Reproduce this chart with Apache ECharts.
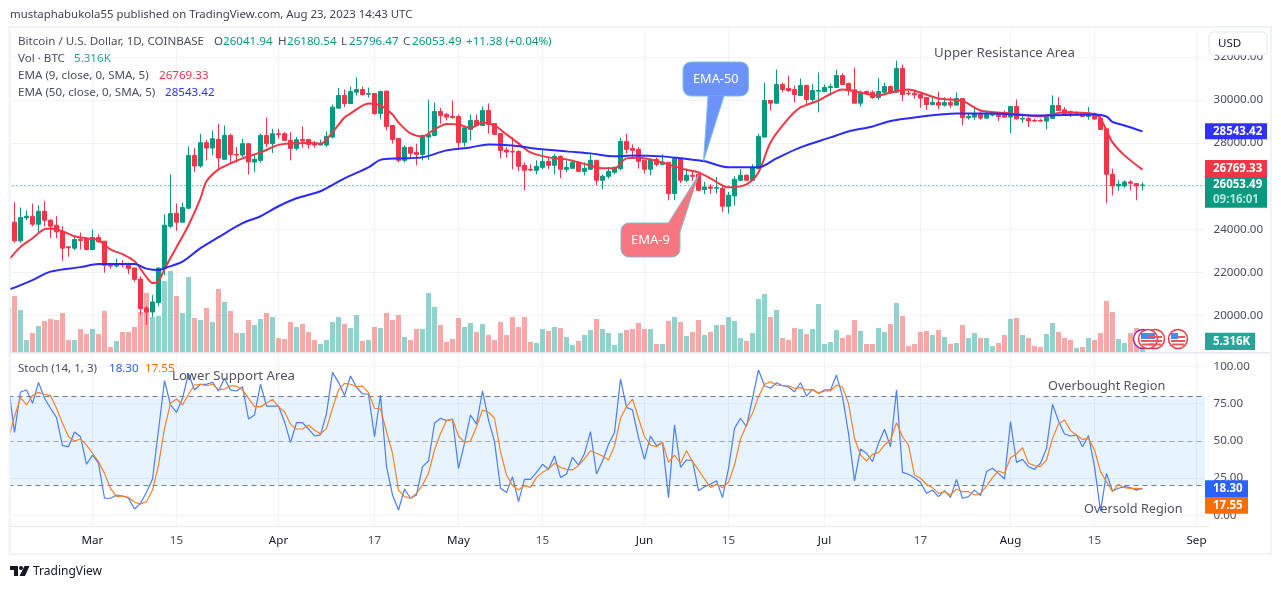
<!DOCTYPE html>
<html>
<head>
<meta charset="utf-8">
<title>BTCUSD</title>
<script src="https://cdn.jsdelivr.net/npm/echarts@6/dist/echarts.min.js"></script>
<style>
html, body { margin: 0; padding: 0; background: #fff; }
#chart { width: 1281px; height: 589px; }
</style>
</head>
<body>
<div id="chart"></div>
<script>
// first category is Feb 15, only its volume sliver and the indicator lines show
var opens = [null,
  24329,23465,24530,24606,24236,24838,24421,24190,23897,23187,
  23125,23542,23557,23063,23619,23449,22354,22292,22384,22354,
  22199,21690,20348,20163,20594,22168,24143,24745,24329,24977,
  27432,26938,28018,27771,28173,27247,28358,27478,27447,27972,
  27123,27200,28358,27972,28435,28435,28126,27756,28172,28172,
  28000,27910,27910,28280,29622,30209,29838,30363,30486,30270,
  30301,29375,30409,28820,28218,27200,27802,27570,27478,28280,
  28357,29468,29329,29237,29237,28033,28635,29052,28820,29514,
  28913,28450,27678,27616,27616,26968,26783,26737,26876,27153,
  26968,27385,26783,26830,27107,26690,26783,27200,26274,26459,
  26644,26814,28080,27755,27709,27200,26784,27246,27015,27108,
  25657,27277,26274,26506,26552,25842,25966,25904,25904,25071,
  25549,26274,26506,26274,26814,28280,29977,29854,30718,30533,
  30487,30209,30672,30024,30409,30394,30579,30579,31135,30764,
  30471,29854,30394,30363,30116,30363,30626,30363,31459,30317,
  30317,30255,30116,29792,29885,29762,29885,29762,30070,29175,
  29206,29360,29160,29300,29360,29360,29206,29700,29113,29144,
  29052,29052,29021,29144,29746,29546,29453,29360,29422,29237,
  29360,29144,28666,26552,26012,26012,26197,26120,26041.94];
var closes = [null,
  23465,24545,24606,24236,24838,24421,24143,23881,23125,23140,
  23526,23480,23063,23619,23418,22323,22292,22415,22354,22169,
  21675,20317,20163,20625,22199,24190,24730,24329,25008,27430,
  26938,28018,27771,28204,27309,28358,27463,27447,27972,27123,
  27247,28358,27972,28435,28404,28126,27756,28157,28095,27940,
  27910,27940,28311,29669,30209,29838,30394,30486,30255,30301,
  29375,30394,28774,28172,27200,27802,27524,27478,28342,28403,
  29468,29283,29206,29190,28033,28712,29052,28820,29514,28866,
  28403,27663,27586,27586,26922,26737,26752,26922,27153,26968,
  27385,26783,26876,27107,26690,26830,27200,26274,26459,26690,
  26876,28080,27709,27663,27154,26784,27246,27015,27123,25657,
  27277,26274,26506,26460,25811,25966,25904,25935,25071,25580,
  26321,26506,26274,26861,28311,29977,29854,30718,30487,30440,
  30255,30672,30024,30440,30440,30579,30626,31135,30718,30440,
  29854,30363,30317,30116,30394,30626,30332,31459,30255,30286,
  30240,30086,29792,29885,29762,29885,29762,30070,29175,29237,
  29360,29160,29330,29360,29237,29206,29700,29129,29144,29021,
  29021,29021,29206,29746,29515,29330,29360,29422,29237,29392,
  29113,28635,26552,26012,26089,26197,26136,26012,26053.49];
var lows = [null,
  23372,23372,24421,24143,23835,24143,23588,23588,22539,22724,
  23032,23063,23032,23032,23372,21983,22169,22230,22230,21922,
  21567,20024,19561,19916,20440,21875,24051,23927,24298,24930,
  26660,26861,27200,27432,26738,27231,27046,27092,27355,26537,
  26661,27100,27818,27540,28203,28126,27200,27663,27786,27740,
  27786,27895,27817,28218,29622,29669,29838,30209,30209,30116,
  29300,29098,28589,27971,27107,27107,27323,26968,27200,27231,
  28311,28897,29052,29129,27663,27848,28126,28774,28820,28434,
  28403,27292,27323,26783,26690,25811,26690,26552,26783,26783,
  26552,26366,26644,26830,26644,26505,26783,26043,25858,26351,
  26552,26737,27509,27277,26814,26583,26506,26922,26969,25350,
  25350,26151,26197,26244,25780,25626,25657,25657,24809,24731,
  25117,26244,26244,26244,26814,28250,29515,29823,30363,30363,
  29885,30209,29823,29885,29422,30363,30209,30579,30718,30209,
  29854,29700,30255,30055,30008,30209,30286,30317,29947,30209,
  30055,29638,29546,29746,29576,29700,29638,29762,28820,29083,
  29083,29083,29113,29237,29021,29175,28466,29083,28928,28743,
  28975,28975,28635,29113,29515,29283,29206,29330,29237,29083,
  29083,28635,25225,25580,25780,25935,25812,25349,25796.47];
var highs = [null,
  25255,25008,24884,25193,25116,25301,24470,24606,24143,23218,
  23650,23850,23588,23989,23773,23449,22384,22647,22570,22446,
  22230,21829,20440,20950,22230,24699,26551,25193,25224,27847,
  27780,28435,28157,28589,28898,28821,28435,27818,28204,28003,
  27509,28450,29176,28666,28666,28512,28512,28280,28774,28172,
  28095,28156,28542,29792,30564,30487,30625,31042,30625,30579,
  30301,30440,30440,28820,28218,27894,27848,27971,28403,30024,
  29885,29638,29406,29977,29329,28712,29329,29329,29700,29838,
  28913,28450,27817,28280,27663,27107,27015,27200,27663,27385,
  27508,27431,27200,27200,27153,27107,27478,27200,26552,26892,
  26922,28250,28435,27941,27817,27200,27293,27324,27478,27108,
  27354,27324,26814,26737,26600,26197,26089,26429,26012,25734,
  26460,26784,26552,27015,28435,30811,30000,31412,30811,31135,
  30672,30996,30718,30749,31274,30718,30749,31400,31243,30811,
  31505,30440,30440,30440,31027,30811,30672,31829,31644,30441,
  30471,30363,30132,30132,30394,30132,30132,30348,30070,29360,
  29669,29515,29515,29438,29438,29515,29700,30024,29360,29206,
  29129,29129,29360,30209,30132,29669,29515,29469,29438,29669,
  29422,29299,28666,26815,26275,26275,26275,26151,26180.54];

// volume in thousands of BTC
var volumes = [26.6,33.6,25.2,7.2,11.4,15.6,18.6,19.8,19.2,23.4,
  7.2,7.2,13.8,10.8,13.8,10.8,24.6,3,6.6,12,
  12,15,24,35.4,21,21.6,42.6,48.6,33.6,23.4,
  45,20.4,19.2,26.4,18,37.8,30,24.6,11.4,11.4,
  19.2,16.2,19.8,23.4,21,8.4,7.8,18,15,16.8,
  12,7.2,4.8,7.2,18,21,16.8,14.4,22.2,6.6,
  7.2,15,14.4,23.4,19.2,22.2,9,7.2,13.8,13.8,
  35.4,27,16.2,6,7.8,20.4,15,17.4,12,16.8,
  10.2,7.2,18,10.2,21,15,21,6,5.4,13.8,
  12.6,15,14.4,9,4.2,6.6,10.2,13.2,19.8,13.8,
  11.4,4.2,11.4,13.2,13.8,17.4,13.8,13.8,4.8,4.8,
  18.6,21,18,9.6,12,19.2,10.2,12,16.2,16.2,
  21,18.6,8.4,6.6,11.4,31.8,34.8,21,25.2,8.4,
  7.2,14.4,13.8,10.8,13.8,28.8,4.8,6,13.2,8.4,
  10.2,19.2,12.6,4.8,4.8,14.4,12,16.8,29.4,21.6,
  3.6,4.8,12,12.6,10.2,13.2,9,4.8,5.4,16.2,
  8.4,11.4,8.4,8.4,3.6,5.4,10.2,19.8,20.4,10.2,
  8.4,3.6,3,10.8,17.4,12,8.4,7.2,2.4,3,
  8.4,7.2,11.4,30.6,24,7.8,5.4,11.4,14.4,5.316];

var ema9 = [[0,22569],[2,23185],[4,23587],[6,24004],[7,24037],[9,23911],[11,23680],[13,23587],[15,23495],[17,23064],
  [19,22847],[21,22522],[23,21782],[24,21504],[25,21597],[26,22152],[28,23171],[30,24190],[32,25440],[33,26227],
  [35,26782],[37,27060],[39,27291],[42,27569],[45,27916],[47,27986],[50,28009],[52,27972],[54,28509],[56,29190],
  [57,29375],[60,29838],[62,29745],[64,29329],[65,28958],[67,28449],[69,28310],[71,28634],[73,28889],[75,28866],
  [77,28704],[79,28958],[81,28819],[83,28403],[85,27986],[87,27569],[90,27338],[93,27245],[96,27037],[99,26828],
  [101,26828],[103,27291],[105,27315],[108,27176],[111,26921],[113,26759],[115,26643],[117,26365],[120,25949],[123,26088],
  [125,26643],[127,28032],[130,29143],[132,29653],[135,29977],[137,30278],[139,30486],[142,30347],[145,30208],[147,30347],
  [150,30486],[152,30347],[155,30069],[159,29954],[162,29514],[167,29375],[172,29236],[176,29435],[181,29352],[182,29143],
  [183,28588],[184,28032],[186,27430],[189,26769.33]];
var ema50 = [[0,21203],[1,21296],[4,21643],[7,22036],[12,22245],[15,22384],[21,22384],[23,22175],[25,22106],[26,22198],
  [29,22499],[32,23124],[35,23633],[39,24282],[42,24606],[45,25069],[48,25440],[52,25764],[56,26366],[60,26875],
  [62,27222],[65,27291],[69,27338],[73,27662],[77,27801],[80,27940],[84,27893],[87,27778],[93,27616],[97,27523],
  [101,27384],[104,27430],[109,27384],[112,27292],[116,27153],[120,26875],[125,26875],[128,27292],[132,27801],[137,28264],
  [140,28542],[144,28773],[147,29028],[151,29190],[158,29375],[164,29375],[171,29282],[181,29329],[183,29236],[184,28981],
  [186,28820],[189,28543.42]];

var stochK = [86.4,55.7,82.8,84.2,75.2,89.3,78.6,71.9,65.6,46.8,
  46.1,56,52.8,34.3,40.5,35,11.5,11.5,13.7,13,
  11.5,4.3,8.1,15.5,24.4,57.3,90.4,74.1,69.2,78.6,
  95.3,84.2,88,88,89.3,83.5,92,84.2,83.5,86.4,
  64.7,67.4,88,73.4,73.4,73.4,62.9,48.8,62.2,62.2,
  58,53.3,54,68.5,96,89.3,80.4,93.6,86,81.5,
  81.3,52.8,80.8,32.7,13.7,3.6,17.7,11.5,13.7,32.7,
  36.5,61.8,65.2,63.6,64.7,31.6,48.4,67.4,61.3,83.5,
  64,49.5,18.2,15.3,26,9.2,24.2,24.2,28.9,34.3,
  31,39.9,25.5,27.6,39,33.8,41.6,56.2,27.8,36.5,
  47.7,55.7,91.5,72.5,70.7,52.2,37.6,53.3,46.8,49,
  11.9,60.7,32.3,37.2,36.7,16.6,19.3,21.1,23.3,11.9,
  31.6,58.4,65.2,59.5,78.6,97.6,87,85.3,89,87,
  86.2,83,89,80.1,84.6,81.9,84.2,84.2,94.2,79.7,
  55.1,23.1,44.6,41.7,36.1,48.4,57.8,46.1,84.2,28.9,
  27.6,25.3,22.2,14.8,17,12.6,16.6,12.1,24.2,11.5,
  12.6,17,13.3,29.4,31.6,28.2,24.4,62.9,35.6,37.6,
  32.7,30.9,35,45,74.5,63.4,54.6,53.3,54,46.1,
  53.5,32.7,3,28.2,16.4,18.2,19.3,18.6,17,18.3];
var stochD = [51.7,66.3,79,74.1,80.4,82.6,81.3,80.4,71.9,61.8,
  52.8,49.9,51.3,47.2,41.7,36.1,28.2,18.2,12.6,13,
  12.1,8.8,7.7,9.2,17,33.8,58.4,75.2,78.1,74.1,
  81.3,87.5,88,87,88,84.6,84.8,87,86.8,84.2,
  78.6,73,73,75.2,77.9,73,69.6,61.1,58,58,
  60.7,57.3,54.6,58.4,71.9,84.2,88.6,88,86.4,86.8,
  82.4,71.9,71.4,56.2,41.7,17,12.6,11.5,14.8,20.4,
  28.2,43.9,55,63.6,64.5,53.3,49,49.9,59.5,70.7,
  69.2,65.2,42.8,27.1,20,17,20,18.8,25.5,28.9,
  31.1,35,32.3,30.9,30.5,33.4,37.9,43.4,41.7,39.9,
  37.2,46.6,65.2,73,78.1,65.2,52.8,47.2,46.1,49,
  35.6,40.5,35,43.4,36.1,30.5,24.4,18.8,20.9,18.6,
  22.2,33.8,51.3,60.7,68.5,79.7,88,89.7,87.5,87,
  87,85.3,85.7,84.2,84.4,81.9,83.5,83.5,87.5,86,
  75.2,51.7,40.5,36.5,41,42.1,47.2,50.6,62.2,52.8,
  47.2,27.1,24.9,20.9,18.6,14.8,15.9,13.7,17.7,15.9,
  15.9,13.7,14.8,19.7,25.3,29.8,28.2,38.7,41.2,45.5,
  35,33.4,32.7,37.2,51.7,61.3,64,56.9,54,51,
  51.7,43.9,29.4,22.6,15.9,20.9,18.6,18.2,18.2,17.55];

var tickDates = ['2023-03-01','2023-03-15','2023-04-01','2023-04-17','2023-05-01','2023-05-15','2023-06-01',
  '2023-06-15','2023-07-01','2023-07-17','2023-08-01','2023-08-15','2023-09-01'];
var tickLabels = ['Mar','15','Apr','17','May','15','Jun','15','Jul','17','Aug','15','Sep'];

// categories run on past the last candle, up to the edge of the pane
var categories = [];
for (var k = 0; k < 201; k++) {
    categories.push(new Date(Date.UTC(2023, 1, 15 + k)).toISOString().slice(0, 10));
}

var UP = '#089981', DOWN = '#f23645', GRID = '#f0f3fa';
var FONT = '"Noto Sans", sans-serif';
var TEXT = '#4a4e5a';

var candles = opens.map(function (o, i) {
    return o === null ? '-' : [o, closes[i], lows[i], highs[i]];
});
var volumeBars = volumes.map(function (v, i) {
    var down = opens[i] !== null && closes[i] < opens[i];
    return { value: v, itemStyle: { color: down ? 'rgba(239,83,80,0.5)' : 'rgba(38,166,154,0.5)' } };
});

function isTick(idx, value) {
    return tickDates.indexOf(value) >= 0;
}

function timeAxis(gridIndex, labels) {
    return {
        type: 'category', gridIndex: gridIndex, data: categories, boundaryGap: false,
        axisTick: { show: false },
        axisLine: { show: labels, lineStyle: { color: '#e6e8ef' } },
        splitLine: { show: gridIndex === 1 || gridIndex === 3, interval: isTick, lineStyle: { color: GRID, width: 1 } },
        axisLabel: {
            show: labels, interval: isTick, margin: 9, fontFamily: FONT, fontSize: 11.6, hideOverlap: false,
            color: function (value) {
                return tickLabels[tickDates.indexOf(value)].length === 3 ? '#131722' : TEXT;
            },
            formatter: function (value) {
                return tickLabels[tickDates.indexOf(value)];
            }
        }
    };
}

function label(text, x, y, color, size, weight) {
    return {
        type: 'text', z: 60, x: x, y: y + 1,
        style: { text: text, fill: color || TEXT, font: (weight || 'normal') + ' ' + (size || 11.6) + 'px ' + FONT, textVerticalAlign: 'middle' }
    };
}

function priceTag(x0, x1, y0, y1, color, text, cy) {
    return [
        { type: 'rect', z: 58, shape: { x: x0, y: y0, width: x1 - x0, height: y1 - y0 }, style: { fill: color } },
        label(text, x0 + 8, cy === undefined ? (y0 + y1) / 2 - 1 : cy, '#fff', 11.5, 'bold')
    ];
}

function flag(cx, cy, ring) {
    var els = [{ type: 'circle', z: 56, shape: { cx: cx, cy: cy, r: 9.5 }, style: { fill: '#fff', stroke: ring, lineWidth: 1.5 } }];
    if (ring !== '#f23645') return els;
    els.push({ type: 'rect', z: 57, shape: { x: cx - 7, y: cy + 1, width: 14, height: 2 }, style: { fill: '#f0545f' } });
    els.push({ type: 'rect', z: 57, shape: { x: cx - 6, y: cy + 4.5, width: 12, height: 2 }, style: { fill: '#f0545f' } });
    els.push({ type: 'rect', z: 57, shape: { x: cx, y: cy - 3, width: 7, height: 2 }, style: { fill: '#f0545f' } });
    els.push({ type: 'rect', z: 57, shape: { x: cx - 7, y: cy - 6, width: 7, height: 6 }, style: { fill: '#3d8fe8' } });
    return els;
}

function callout(box, pointer, fill, stroke, text, size) {
    return [
        { type: 'rect', z: 52, shape: { x: box[0], y: box[1], width: box[2], height: box[3], r: 8 }, style: { fill: fill, stroke: stroke, lineWidth: 1 } },
        { type: 'polygon', z: 53, shape: { points: pointer }, style: { fill: fill } },
        { type: 'polyline', z: 53, shape: { points: pointer.slice(0, 3) }, style: { fill: 'none', stroke: stroke, lineWidth: 1 } },
        {
            type: 'text', z: 54, x: box[0] + box[2] / 2, y: box[1] + box[3] / 2,
            style: { text: text, fill: '#fff', font: size + 'px ' + FONT, textAlign: 'center', textVerticalAlign: 'middle' }
        }
    ];
}

var graphics = [
    // trim the panes to the frame
    { type: 'rect', z: 50, shape: { x: 0, y: 20, width: 9.5, height: 540 }, style: { fill: '#fff' } },
    { type: 'rect', z: 50, shape: { x: 1205, y: 20, width: 3.5, height: 506 }, style: { fill: '#fff' } },
    { type: 'rect', z: 51, shape: { x: 9.5, y: 27, width: 1261.5, height: 527 }, style: { fill: 'none', stroke: GRID, lineWidth: 2 } },
    { type: 'rect', z: 51, shape: { x: 10, y: 352, width: 1260, height: 1.5 }, style: { fill: '#e6e8ef' } },

    label('mustaphabukola55 published on TradingView.com, Aug 23, 2023 14:43 UTC', 10, 14, '#3f424d', 11.4),
    label('Bitcoin / U.S. Dollar, 1D, COINBASE', 18, 41),
    label('O', 214, 41), label('26041.94', 223, 41, UP),
    label('H', 278, 41), label('26180.54', 287, 41, UP),
    label('L', 341, 41), label('25796.47', 349, 41, UP),
    label('C', 403, 41), label('26053.49', 412, 41, UP),
    label('+11.38 (+0.04%)', 466, 41, UP),
    label('Vol · BTC', 18, 58), label('5.316K', 74, 58, '#26a69a'),
    label('EMA (9, close, 0, SMA, 5)', 18, 75), label('26769.33', 159, 75, DOWN),
    label('EMA (50, close, 0, SMA, 5)', 18, 92), label('28543.42', 165, 92, '#3030ff'),
    label('Stoch (14, 1, 3)', 18, 368), label('18.30', 109, 368, '#2962ff'), label('17.55', 145, 368, '#ff6d00'),

    label('Upper Resistance Area', 934, 52, '#50535e', 13.3),
    label('Lower Support Area', 172, 375, '#50535e', 13.2),
    label('Overbought Region', 1048, 385, '#50535e', 12.7),
    label('Oversold Region', 1084, 508, '#50535e', 12.7),

    { type: 'rect', z: 58, shape: { x: 1209, y: 32, width: 58, height: 23, r: 4 }, style: { fill: '#fff', stroke: '#e6e8ef', lineWidth: 1 } },
    label('USD', 1218, 43, '#131722', 11.6),

    // TradingView mark
    { type: 'rect', z: 60, shape: { x: 10, y: 566, width: 8, height: 4 }, style: { fill: '#131722' } },
    { type: 'rect', z: 60, shape: { x: 14, y: 566, width: 4, height: 10 }, style: { fill: '#131722' } },
    { type: 'circle', z: 60, shape: { cx: 21, cy: 568, r: 2 }, style: { fill: '#131722' } },
    { type: 'polygon', z: 60, shape: { points: [[24.5, 566], [29.5, 566], [25, 576], [19.5, 576]] }, style: { fill: '#131722' } },
    label('TradingView', 33, 571, '#131722', 12)
];
graphics = graphics.concat(
    callout([683, 62, 65.5, 34], [[708, 96], [703.5, 161], [724, 96]], '#6b93fb', '#7fc0dc', 'EMA-50', 12.8),
    callout([621, 223, 59, 34], [[668, 223.5], [698.5, 175], [680, 232], [675, 232]], '#f7767f', '#7fbfc9', 'EMA-9', 13),
    flag(1143, 339, '#9c27b0'), flag(1155, 339, '#f23645'), flag(1148, 339, '#f23645'), flag(1178, 339, '#f23645'),
    priceTag(1205, 1267, 123.3, 139.3, '#3030ff', '28543.42'),
    priceTag(1205, 1267, 160, 177, DOWN, '26769.33'),
    priceTag(1205, 1267, 177, 207.7, UP, '26053.49', 184),
    [label('09:16:01', 1213, 199, '#b5e3da', 11.5, 'bold')],
    priceTag(1205, 1255, 332.7, 350, '#26a69a', '5.316K'),
    priceTag(1205, 1248, 480.3, 497, '#2962ff', '18.30'),
    priceTag(1205, 1248, 497, 513.7, '#ff6d00', '17.55')
);

var chart = echarts.init(document.getElementById('chart'), null, { renderer: 'canvas' });
chart.setOption({
    animation: false,
    graphic: { elements: graphics },
    grid: [
        { left: 8.5, width: 1200, top: 56.9, height: 301.7 },
        { left: 8.5, width: 1200, top: 28, height: 324 },
        { left: 8.5, width: 1200, top: 366.4, height: 149 },
        { left: 8.5, width: 1200, top: 353, height: 173 }
    ],
    xAxis: [timeAxis(0, false), timeAxis(1, false), timeAxis(2, false), timeAxis(3, true)],
    yAxis: [
        {
            gridIndex: 0, position: 'right', min: 18000, max: 32000, interval: 2000, scale: true,
            axisLine: { show: false }, axisTick: { show: false },
            splitLine: { showMinLine: false, lineStyle: { color: GRID } },
            axisLabel: {
                margin: 5, color: TEXT, fontFamily: FONT, fontSize: 11.6, showMinLabel: false, padding: [2, 0, 0, 0],
                formatter: function (v) { return v.toFixed(2); }
            }
        },
        { gridIndex: 1, min: 0, max: 194.4, show: false },
        {
            gridIndex: 2, position: 'right', min: 0, max: 100, interval: 25,
            axisLine: { show: false }, axisTick: { show: false },
            splitLine: { lineStyle: { color: GRID } },
            axisLabel: {
                margin: 5, color: TEXT, fontFamily: FONT, fontSize: 11.6, padding: [2, 0, 0, 0],
                formatter: function (v) { return v.toFixed(2); }
            }
        },
        { gridIndex: 3, min: 0, max: 1, show: false }
    ],
    series: [
        {
            name: 'Vol', type: 'bar', xAxisIndex: 1, yAxisIndex: 1, data: volumeBars,
            barWidth: 5, z: 1, silent: true
        },
        {
            name: 'BTCUSD', type: 'candlestick', xAxisIndex: 0, yAxisIndex: 0, data: candles,
            barWidth: 5, z: 3, silent: true,
            itemStyle: { color: UP, color0: DOWN, borderColor: UP, borderColor0: DOWN, borderWidth: 1 },
            markLine: {
                silent: true, symbol: 'none', label: { show: false }, z: 2,
                lineStyle: { color: UP, type: [1, 3], width: 1 },
                data: [{ yAxis: closes[closes.length - 1] }]
            }
        },
        {
            name: 'EMA 9', type: 'line', xAxisIndex: 0, yAxisIndex: 0, data: ema9, smooth: 0.3,
            showSymbol: false, z: 4, silent: true, lineStyle: { color: '#f23645', width: 2 }
        },
        {
            name: 'EMA 50', type: 'line', xAxisIndex: 0, yAxisIndex: 0, data: ema50, smooth: 0.3,
            showSymbol: false, z: 4, silent: true, lineStyle: { color: '#2a2aff', width: 2 }
        },
        {
            name: '%K', type: 'line', xAxisIndex: 2, yAxisIndex: 2, data: stochK,
            showSymbol: false, z: 4, silent: true, lineStyle: { color: '#4a7dfa', width: 1.2 },
            markArea: {
                silent: true, itemStyle: { color: 'rgba(33,150,243,0.11)' },
                data: [[{ yAxis: 20 }, { yAxis: 80 }]]
            },
            markLine: {
                silent: true, symbol: 'none', label: { show: false },
                lineStyle: { color: '#787b86', type: [5, 4], width: 1 },
                data: [{ yAxis: 80 }, { yAxis: 50, lineStyle: { color: '#a3a6af' } }, { yAxis: 20 }]
            }
        },
        {
            name: '%D', type: 'line', xAxisIndex: 2, yAxisIndex: 2, data: stochD,
            showSymbol: false, z: 5, silent: true, lineStyle: { color: '#f7802a', width: 1.2 }
        },
        // keeps the axis of the time grid alive
        { type: 'line', xAxisIndex: 3, yAxisIndex: 3, data: [], silent: true }
    ]
});
</script>
</body>
</html>
